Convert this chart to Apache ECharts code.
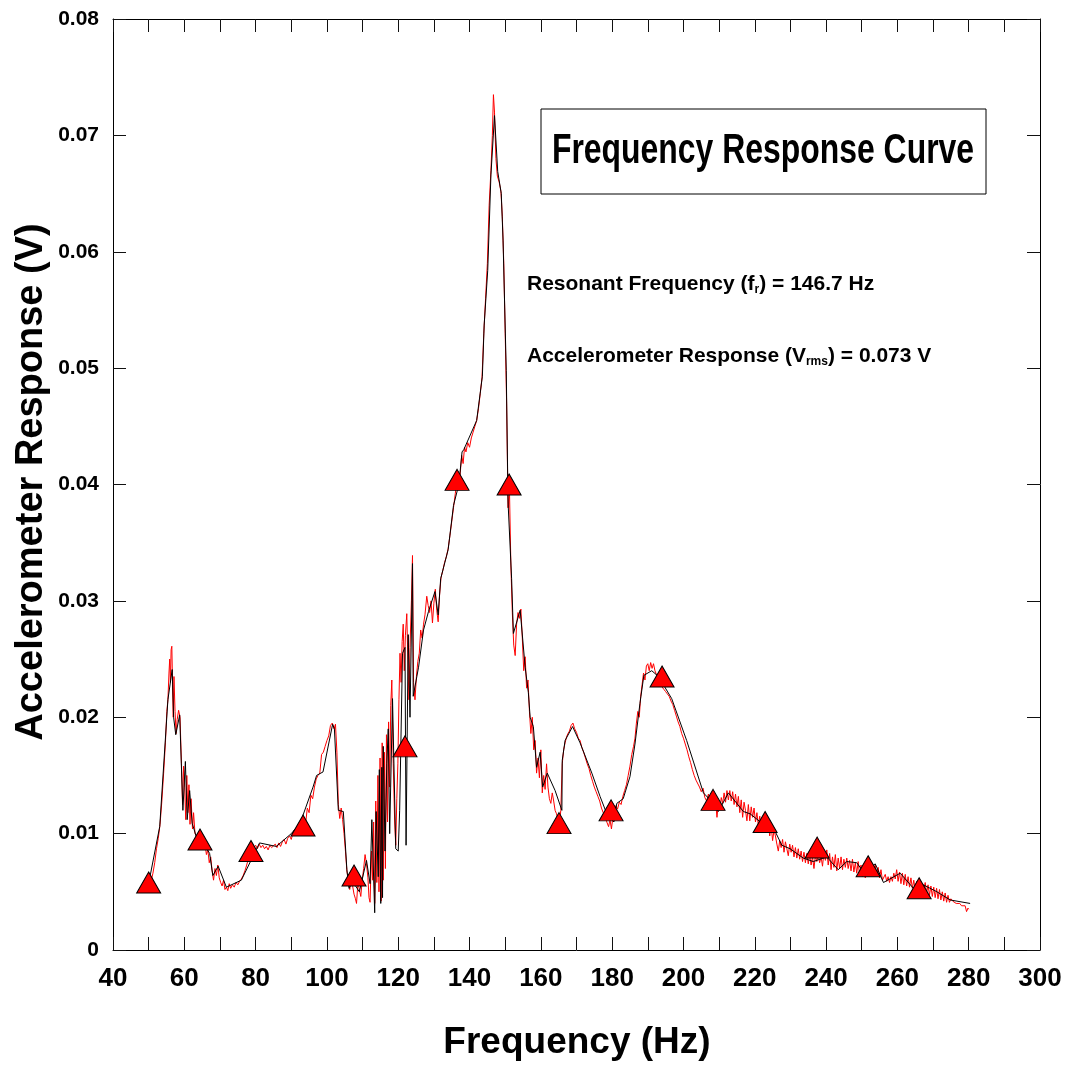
<!DOCTYPE html>
<html>
<head>
<meta charset="utf-8">
<script src="https://cdn.jsdelivr.net/npm/echarts@6/dist/echarts.min.js"></script>
<style>html,body{margin:0;padding:0;background:#fff}#c{width:1067px;height:1067px}</style>
</head>
<body>
<div id="c"></div>
<script>
// Frequency axis ticks (Hz) and voltage ticks (V)
const xTicks = [40, 60, 80, 100, 120, 140, 160, 180, 200, 220, 240, 260, 280, 300];
const yTicks = [0, 0.01, 0.02, 0.03, 0.04, 0.05, 0.06, 0.07, 0.08];

// Black (averaged) response curve: [Hz, V]
const blackCurve = [
[49.8,0.0054],[53.1,0.0106],[55.4,0.0215],[56.6,0.0241],[57.0,0.0200],[57.6,0.0185],[58.7,0.0202],[59.6,0.0120],[60.3,0.0162],[60.8,0.0112],[61.5,0.0137],[62.2,0.0109],[63.4,0.0097],[65.3,0.0092],[67.1,0.0083],[68.0,0.0064],[69.5,0.0072],[71.8,0.0054],[76.0,0.0060],[81.1,0.0092],[85.8,0.0089],[90.0,0.0100],[92.5,0.0109],[96.1,0.0140],[97.1,0.0150],[98.9,0.0153],[101.6,0.0194],[102.1,0.0190],[103.2,0.0120],[104.6,0.0119],[105.6,0.0069],[106.2,0.0053],[107.2,0.0059],[109.1,0.0050],[111.1,0.0077],[112.1,0.0057],[112.6,0.0112],[113.4,0.0032],[113.8,0.0119],[114.4,0.0063],[114.7,0.0155],[115.1,0.0040],[115.4,0.0157],[115.6,0.0045],[115.8,0.0175],[116.3,0.0085],[116.8,0.0160],[117.2,0.0190],[117.6,0.0100],[118.4,0.0216],[119.3,0.0087],[120.0,0.0085],[120.4,0.0120],[121.2,0.0255],[121.9,0.0260],[122.2,0.0090],[122.8,0.0271],[123.3,0.0200],[124.0,0.0332],[124.2,0.0218],[125.7,0.0243],[127.1,0.0275],[128.5,0.0291],[130.3,0.0308],[131.2,0.0288],[131.9,0.0319],[134.0,0.0344],[135.5,0.0382],[137.0,0.0400],[137.9,0.0428],[138.4,0.0430],[142.0,0.0455],[143.6,0.0493],[144.1,0.0537],[145.1,0.0584],[146.0,0.0666],[147.0,0.0717],[147.9,0.0669],[148.9,0.0650],[149.4,0.0610],[150.3,0.0498],[150.8,0.0385],[151.8,0.0319],[152.3,0.0272],[154.2,0.0292],[155.6,0.0243],[156.5,0.0221],[157.0,0.0200],[157.9,0.0192],[158.8,0.0157],[159.8,0.0170],[160.5,0.0140],[161.8,0.0152],[164.0,0.0137],[165.9,0.0120],[166.0,0.0163],[166.8,0.0180],[168.9,0.0192],[171.0,0.0178],[174.3,0.0152],[176.6,0.0132],[178.5,0.0117],[180.5,0.0110],[181.3,0.0126],[183.1,0.0130],[185.0,0.0149],[186.4,0.0177],[187.8,0.0212],[188.9,0.0236],[191.1,0.0240],[193.0,0.0235],[196.7,0.0216],[200.9,0.0180],[205.6,0.0135],[208.4,0.0126],[209.8,0.0119],[212.6,0.0135],[216.8,0.0119],[218.7,0.0117],[222.0,0.0109],[225.7,0.0102],[227.6,0.0090],[229.9,0.0087],[233.6,0.0079],[236.4,0.0076],[240.2,0.0080],[243.4,0.0069],[245.8,0.0076],[248.6,0.0075],[250.5,0.0067],[253.8,0.0074],[256.1,0.0058],[260.8,0.0066],[264.5,0.0053],[267.3,0.0056],[271.1,0.0050],[274.8,0.0043],[280.4,0.0040]
];

// Red (raw) response curve: [Hz, V]
const redCurve = [
[50.0,0.0056],[50.6,0.0058],[51.2,0.0066],[51.7,0.0075],[52.2,0.0087],[52.7,0.0096],[53.2,0.0108],[53.7,0.0128],[54.2,0.0152],[54.7,0.0178],[55.1,0.0205],[55.4,0.0215],[55.7,0.0238],[55.9,0.0250],[56.1,0.0230],[56.3,0.0258],[56.5,0.0261],[56.7,0.0228],[56.9,0.0200],[57.1,0.0235],[57.4,0.0205],[57.7,0.0186],[58.0,0.0198],[58.4,0.0206],[58.8,0.0200],[59.2,0.0160],[59.5,0.0125],[59.8,0.0158],[60.1,0.0140],[60.4,0.0112],[60.7,0.0150],[61.0,0.0118],[61.3,0.0142],[61.6,0.0108],[61.9,0.0130],[62.3,0.0104],[62.6,0.0118],[63.0,0.0100],[63.4,0.0098],[63.8,0.0094],[64.2,0.0097],[64.6,0.0090],[65.0,0.0094],[65.4,0.0088],[65.8,0.0091],[66.2,0.0082],[66.6,0.0086],[67.0,0.0075],[67.4,0.0080],[67.8,0.0068],[68.2,0.0060],[68.6,0.0070],[69.0,0.0064],[69.4,0.0073],[69.8,0.0062],[70.2,0.0058],[70.6,0.0055],[71.0,0.0060],[71.4,0.0052],[71.8,0.0054],[72.2,0.0051],[72.6,0.0057],[73.0,0.0053],[73.5,0.0056],[74.0,0.0054],[74.5,0.0058],[75.0,0.0056],[75.5,0.0059],[76.0,0.0061],[76.5,0.0064],[77.0,0.0068],[77.5,0.0073],[78.0,0.0079],[78.5,0.0084],[79.0,0.0086],[79.5,0.0088],[80.0,0.0090],[80.5,0.0087],[81.0,0.0091],[81.5,0.0088],[82.0,0.0090],[82.5,0.0087],[83.0,0.0089],[83.5,0.0086],[84.0,0.0090],[84.5,0.0088],[85.0,0.0087],[85.5,0.0091],[86.0,0.0088],[86.5,0.0092],[87.0,0.0089],[87.5,0.0093],[88.0,0.0095],[88.5,0.0091],[89.0,0.0096],[89.5,0.0098],[90.0,0.0095],[90.5,0.0101],[91.0,0.0104],[91.5,0.0100],[92.0,0.0107],[92.5,0.0104],[93.0,0.0110],[93.5,0.0113],[94.0,0.0108],[94.5,0.0122],[95.0,0.0118],[95.5,0.0133],[96.0,0.0130],[96.5,0.0140],[97.0,0.0147],[97.5,0.0150],[98.0,0.0152],[98.5,0.0168],[99.0,0.0170],[99.5,0.0175],[100.0,0.0180],[100.5,0.0184],[101.0,0.0193],[101.5,0.0195],[102.0,0.0190],[102.4,0.0194],[102.8,0.0170],[103.2,0.0125],[103.6,0.0113],[104.0,0.0122],[104.4,0.0112],[104.8,0.0100],[105.2,0.0085],[105.6,0.0068],[106.0,0.0060],[106.4,0.0052],[106.8,0.0060],[107.2,0.0055],[107.6,0.0048],[108.0,0.0044],[108.3,0.0040],[108.7,0.0058],[109.1,0.0052],[109.5,0.0046],[109.9,0.0060],[110.3,0.0070],[110.7,0.0082],[111.1,0.0074],[111.5,0.0062],[111.8,0.0045],[112.1,0.0041],[112.5,0.0085],[112.8,0.0060],[113.1,0.0110],[113.4,0.0040],[113.7,0.0128],[114.0,0.0058],[114.3,0.0150],[114.6,0.0050],[114.9,0.0165],[115.2,0.0042],[115.5,0.0178],[115.8,0.0060],[116.1,0.0170],[116.4,0.0070],[116.7,0.0185],[117.0,0.0110],[117.3,0.0196],[117.6,0.0140],[117.9,0.0210],[118.2,0.0232],[118.6,0.0160],[119.0,0.0110],[119.3,0.0090],[119.6,0.0130],[119.9,0.0160],[120.2,0.0215],[120.5,0.0255],[120.8,0.0230],[121.1,0.0265],[121.4,0.0280],[121.7,0.0240],[122.0,0.0270],[122.4,0.0289],[122.7,0.0250],[123.0,0.0215],[123.3,0.0260],[123.7,0.0300],[124.0,0.0339],[124.3,0.0230],[124.7,0.0215],[125.1,0.0235],[125.5,0.0248],[125.9,0.0255],[126.3,0.0275],[126.7,0.0268],[127.1,0.0280],[127.5,0.0288],[128.0,0.0304],[128.4,0.0296],[128.8,0.0290],[129.2,0.0300],[129.6,0.0281],[130.0,0.0298],[130.4,0.0310],[130.8,0.0292],[131.2,0.0282],[131.6,0.0305],[132.0,0.0320],[132.5,0.0326],[133.0,0.0333],[133.5,0.0338],[134.0,0.0345],[134.5,0.0356],[135.0,0.0368],[135.5,0.0380],[136.0,0.0392],[136.5,0.0405],[137.0,0.0395],[137.4,0.0410],[137.8,0.0425],[138.2,0.0418],[138.6,0.0432],[139.0,0.0428],[139.5,0.0436],[140.0,0.0432],[140.5,0.0440],[141.0,0.0445],[141.5,0.0450],[142.0,0.0455],[142.5,0.0465],[143.0,0.0478],[143.5,0.0492],[144.0,0.0530],[144.5,0.0560],[145.0,0.0590],[145.5,0.0640],[146.0,0.0670],[146.4,0.0700],[146.7,0.0735],[147.0,0.0720],[147.4,0.0680],[147.8,0.0665],[148.3,0.0660],[148.8,0.0652],[149.2,0.0630],[149.6,0.0590],[150.0,0.0530],[150.4,0.0470],[150.8,0.0380],[151.2,0.0395],[151.6,0.0330],[152.0,0.0290],[152.4,0.0262],[152.8,0.0253],[153.2,0.0280],[153.6,0.0290],[154.0,0.0285],[154.4,0.0293],[154.8,0.0268],[155.2,0.0240],[155.6,0.0252],[156.0,0.0225],[156.4,0.0232],[156.8,0.0205],[157.2,0.0186],[157.6,0.0200],[158.0,0.0172],[158.4,0.0180],[158.8,0.0152],[159.2,0.0165],[159.6,0.0148],[160.0,0.0172],[160.4,0.0135],[160.8,0.0150],[161.2,0.0138],[161.6,0.0160],[162.0,0.0140],[162.4,0.0130],[162.8,0.0126],[163.2,0.0135],[163.6,0.0128],[164.0,0.0120],[164.4,0.0117],[164.8,0.0112],[165.2,0.0108],[165.6,0.0120],[166.0,0.0160],[166.4,0.0172],[166.8,0.0178],[167.2,0.0183],[167.6,0.0186],[168.0,0.0188],[168.5,0.0193],[169.0,0.0195],[169.5,0.0190],[170.0,0.0187],[170.5,0.0182],[171.0,0.0180],[171.5,0.0174],[172.0,0.0170],[172.5,0.0165],[173.0,0.0160],[173.5,0.0156],[174.0,0.0150],[174.5,0.0145],[175.0,0.0140],[175.5,0.0136],[176.0,0.0132],[176.5,0.0128],[177.0,0.0122],[177.5,0.0118],[178.0,0.0115],[178.5,0.0110],[179.0,0.0106],[179.4,0.0112],[179.8,0.0104],[180.2,0.0114],[180.6,0.0118],[181.0,0.0124],[181.5,0.0121],[182.0,0.0127],[182.5,0.0125],[183.0,0.0132],[183.5,0.0137],[184.0,0.0142],[184.5,0.0150],[185.0,0.0158],[185.5,0.0168],[186.0,0.0175],[186.4,0.0182],[186.8,0.0195],[187.2,0.0205],[187.6,0.0200],[188.0,0.0218],[188.4,0.0228],[188.8,0.0238],[189.2,0.0232],[189.6,0.0244],[190.0,0.0246],[190.4,0.0240],[190.8,0.0247],[191.2,0.0242],[191.6,0.0246],[192.0,0.0240],[192.5,0.0236],[193.0,0.0232],[193.5,0.0228],[194.0,0.0226],[194.5,0.0224],[195.0,0.0222],[195.5,0.0220],[196.0,0.0218],[196.5,0.0214],[197.0,0.0211],[197.5,0.0206],[198.0,0.0201],[198.5,0.0196],[199.0,0.0192],[199.5,0.0186],[200.0,0.0182],[200.5,0.0177],[201.0,0.0172],[201.5,0.0166],[202.0,0.0161],[202.5,0.0155],[203.0,0.0150],[203.5,0.0146],[204.0,0.0145],[204.5,0.0140],[205.0,0.0136],[205.5,0.0139],[206.0,0.0131],[206.5,0.0128],[207.0,0.0134],[207.5,0.0126],[208.0,0.0130],[208.5,0.0122],[209.0,0.0128],[209.4,0.0114],[209.8,0.0127],[210.2,0.0121],[210.6,0.0131],[211.0,0.0126],[211.4,0.0135],[211.8,0.0127],[212.2,0.0137],[212.6,0.0129],[213.0,0.0137],[213.4,0.0128],[213.8,0.0136],[214.2,0.0125],[214.6,0.0134],[215.0,0.0123],[215.4,0.0132],[215.8,0.0118],[216.2,0.0129],[216.6,0.0114],[217.0,0.0127],[217.4,0.0120],[217.8,0.0111],[218.2,0.0125],[218.6,0.0111],[219.0,0.0123],[219.4,0.0114],[219.8,0.0122],[220.2,0.0110],[220.6,0.0118],[221.0,0.0107],[221.4,0.0115],[221.8,0.0105],[222.2,0.0113],[222.6,0.0103],[223.0,0.0110],[223.4,0.0101],[223.8,0.0109],[224.2,0.0098],[224.6,0.0107],[225.0,0.0094],[225.4,0.0103],[225.8,0.0098],[226.2,0.0091],[226.6,0.0085],[227.0,0.0094],[227.4,0.0088],[227.8,0.0095],[228.2,0.0084],[228.6,0.0093],[229.0,0.0087],[229.4,0.0081],[229.8,0.0091],[230.2,0.0084],[230.6,0.0090],[231.0,0.0080],[231.4,0.0088],[231.8,0.0079],[232.2,0.0087],[232.6,0.0078],[233.0,0.0085],[233.4,0.0076],[233.8,0.0084],[234.2,0.0075],[234.6,0.0083],[235.0,0.0074],[235.4,0.0082],[235.8,0.0073],[236.2,0.0080],[236.6,0.0070],[237.0,0.0081],[237.4,0.0076],[237.8,0.0082],[238.2,0.0075],[238.6,0.0080],[239.0,0.0072],[239.4,0.0084],[239.8,0.0077],[240.2,0.0086],[240.6,0.0073],[241.0,0.0083],[241.4,0.0069],[241.8,0.0080],[242.2,0.0071],[242.6,0.0082],[243.0,0.0068],[243.4,0.0079],[243.8,0.0070],[244.2,0.0080],[244.6,0.0069],[245.0,0.0078],[245.4,0.0071],[245.8,0.0079],[246.2,0.0070],[246.6,0.0077],[247.0,0.0068],[247.4,0.0078],[247.8,0.0067],[248.2,0.0075],[248.6,0.0066],[249.0,0.0076],[249.4,0.0064],[249.8,0.0073],[250.2,0.0063],[250.6,0.0072],[251.0,0.0062],[251.4,0.0071],[251.8,0.0065],[252.2,0.0070],[252.6,0.0072],[253.0,0.0069],[253.4,0.0067],[253.8,0.0073],[254.2,0.0064],[254.6,0.0071],[255.0,0.0062],[255.4,0.0069],[255.8,0.0060],[256.2,0.0061],[256.6,0.0065],[257.0,0.0059],[257.4,0.0063],[257.8,0.0058],[258.2,0.0063],[258.6,0.0059],[259.0,0.0066],[259.4,0.0061],[259.8,0.0069],[260.2,0.0059],[260.6,0.0067],[261.0,0.0057],[261.4,0.0066],[261.8,0.0056],[262.2,0.0065],[262.6,0.0055],[263.0,0.0063],[263.4,0.0054],[263.8,0.0062],[264.2,0.0053],[264.6,0.0060],[265.0,0.0051],[265.4,0.0059],[265.8,0.0050],[266.2,0.0058],[266.6,0.0050],[267.0,0.0057],[267.4,0.0051],[267.8,0.0058],[268.2,0.0049],[268.6,0.0056],[269.0,0.0047],[269.4,0.0055],[269.8,0.0046],[270.2,0.0054],[270.6,0.0045],[271.0,0.0053],[271.4,0.0044],[271.8,0.0052],[272.2,0.0043],[272.6,0.0050],[273.0,0.0042],[273.4,0.0049],[273.8,0.0041],[274.2,0.0047],[274.6,0.0041],[275.0,0.0044],[275.5,0.0042],[276.0,0.0041],[276.5,0.0040],[277.0,0.0039],[277.5,0.0040],[278.0,0.0038],[278.5,0.0037],[279.0,0.0038],[279.4,0.0033],[279.8,0.0036],[280.0,0.0035]
];

// Triangle markers: [Hz, V]
const markers = [
[50.0,0.0058],[64.4,0.0095],[78.7,0.0085],[93.3,0.0107],[107.6,0.0064],[121.9,0.0175],[136.5,0.0404],[151.1,0.0400],[165.1,0.0109],[179.7,0.0120],[194.0,0.0235],[208.3,0.0129],[222.9,0.0110],[237.5,0.0088],[251.8,0.0072],[266.1,0.0053]
];

const titleText = 'Frequency Response Curve';
const xTitle = 'Frequency (Hz)';
const yTitle = 'Accelerometer Response (V)';

const chart = echarts.init(document.getElementById('c'), null, {renderer: 'canvas'});
const F = 'Liberation Sans, Arial, Helvetica, sans-serif';
const axisLine = {show: true, onZero: false, lineStyle: {color: '#000', width: 1}};
const tick = {show: true, inside: true, length: 13, lineStyle: {color: '#111', width: 1}};

chart.setOption({
  animation: false,
  backgroundColor: '#fff',
  grid: {left: 113, top: 19, right: 27, bottom: 117, containLabel: false},
  xAxis: [
    {type: 'value', min: 40, max: 300, interval: 10, position: 'bottom',
     axisLine: axisLine, axisTick: tick, splitLine: {show: false},
     axisLabel: {margin: 16, fontFamily: F, fontWeight: 'bold', fontSize: 26, color: '#000',
       formatter: v => xTicks.indexOf(v) >= 0 ? String(v) : ''}},
    {type: 'value', min: 40, max: 300, interval: 10, position: 'top',
     axisLine: axisLine, axisTick: tick, splitLine: {show: false}, axisLabel: {show: false}}
  ],
  yAxis: [
    {type: 'value', min: 0, max: 0.08, interval: 0.01, position: 'left',
     axisLine: axisLine, axisTick: tick, splitLine: {show: false},
     axisLabel: {margin: 14, fontFamily: F, fontWeight: 'bold', fontSize: 21, color: '#000',
       formatter: v => { const t = yTicks.find(k => Math.abs(k - v) < 1e-9); return t === 0 ? '0' : t.toFixed(2); }}},
    {type: 'value', min: 0, max: 0.08, interval: 0.01, position: 'right',
     axisLine: axisLine, axisTick: tick, splitLine: {show: false}, axisLabel: {show: false}}
  ],
  series: [
    {type: 'line', data: redCurve, showSymbol: false, lineStyle: {color: '#ff0000', width: 1}, z: 2},
    {type: 'line', data: blackCurve, showSymbol: false, lineStyle: {color: '#000', width: 1}, z: 3},
    {type: 'scatter', data: markers, symbol: 'triangle', symbolSize: [24, 21],
     itemStyle: {color: '#ff0000', borderColor: '#000', borderWidth: 1, opacity: 1}, z: 4}
  ],
  graphic: [
    {type: 'rect', shape: {x: 541, y: 109, width: 445, height: 85}, style: {fill: '#fff', stroke: '#000', lineWidth: 1}, z: 10},
    {type: 'text', x: 763, y: 151, scaleX: 0.76, scaleY: 1, z: 11, style: {text: titleText, fill: '#000',
      font: 'bold 42px ' + F,
      textAlign: 'center', textVerticalAlign: 'middle'}},
    {type: 'text', x: 527, y: 284, z: 11, style: {
      text: 'Resonant Frequency (f{sub|r}) = 146.7 Hz', fill: '#000',
      font: 'bold 21px ' + F, textAlign: 'left', textVerticalAlign: 'middle',
      rich: {sub: {fontSize: 12, fontWeight: 'bold', fontFamily: F, fill: '#000', padding: [12, 0, 0, 0]}}}},
    {type: 'text', x: 527, y: 356, z: 11, style: {
      text: 'Accelerometer Response (V{sub|rms}) = 0.073 V', fill: '#000',
      font: 'bold 21px ' + F, textAlign: 'left', textVerticalAlign: 'middle',
      rich: {sub: {fontSize: 12, fontWeight: 'bold', fontFamily: F, fill: '#000', padding: [12, 0, 0, 0]}}}},
    {type: 'text', x: 577, y: 1043, z: 11, style: {text: xTitle, fill: '#000',
      font: 'bold 37px ' + F, textAlign: 'center', textVerticalAlign: 'middle'}},
    {type: 'text', x: 32, y: 482, rotation: Math.PI / 2, z: 11, style: {text: yTitle, fill: '#000',
      font: 'bold 38px ' + F, textAlign: 'center', textVerticalAlign: 'middle'}}
  ]
});
</script>
</body>
</html>
